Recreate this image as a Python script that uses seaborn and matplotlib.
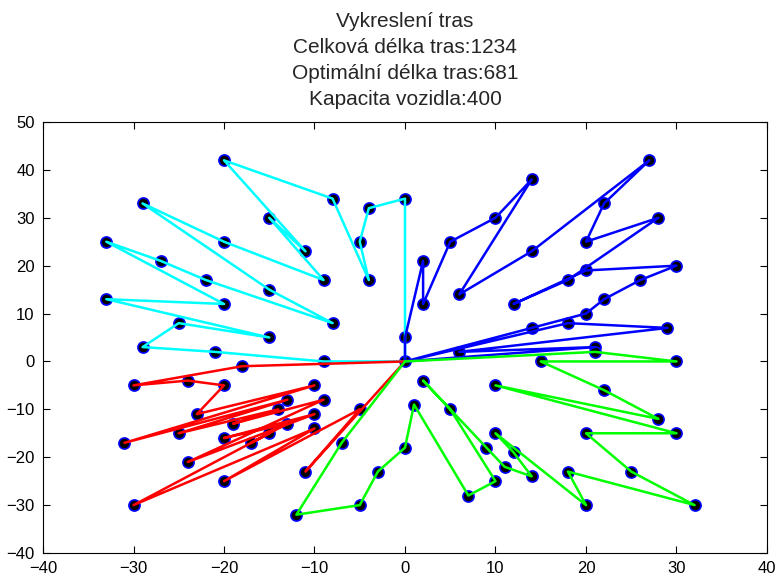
import matplotlib
matplotlib.use("Agg")
import matplotlib.pyplot as plt
import seaborn as sns
import pandas as pd

# Route data (in visiting order, depot at 0,0)
cyan_x = [0, 0, -4, -5, -4, -8, -20, -11, -15, -9, -20, -29, -15, -8, -22, -27, -33, -20, -33, -15, -25, -29, -21, -9, 0]
cyan_y = [0, 34, 32, 25, 17, 34, 42, 23, 30, 17, 25, 33, 15, 8, 17, 21, 25, 12, 13, 5, 8, 3, 2, 0, 0]

blue_x = [0, 0, 2, 2, 5, 10, 14, 6, 14, 27, 22, 20, 28, 18, 12, 20, 30, 26, 22, 20, 14, 0, 18, 29, 6, 21, 0]
blue_y = [0, 5, 21, 12, 25, 30, 38, 14, 23, 42, 33, 25, 30, 17, 12, 19, 20, 17, 13, 10, 7, 0, 8, 7, 2, 3, 0]

red_x = [0, -18, -30, -24, -20, -23, -10, -31, -13, -25, -14, -19, -9, -24, -10, -20, -13, -17, -15, -30, -10, -20, -5, -11, 0]
red_y = [0, -1, -5, -4, -5, -11, -5, -17, -8, -15, -10, -13, -8, -21, -11, -16, -13, -17, -15, -30, -14, -25, -10, -23, 0]

green_x = [0, -7, -12, -5, -3, 0, 1, 7, 10, 5, 2, 9, 11, 14, 12, 10, 20, 18, 32, 25, 20, 30, 10, 28, 22, 15, 30, 21, 0]
green_y = [0, -17, -32, -30, -23, -18, -9, -28, -25, -10, -4, -18, -22, -24, -19, -15, -30, -23, -30, -23, -15, -15, -5, -12, -6, 0, 0, 2, 0]

route_names = ["cyan", "blue", "red", "green"]
route_colors = {"cyan": "#00ffff", "blue": "#0000ff", "red": "#ff0000", "green": "#00ff00"}

title_lines = ["Vykreslení tras", "Celková délka tras:1234", "Optimální délka tras:681", "Kapacita vozidla:400"]

frames = []
for name, xs, ys in [("cyan", cyan_x, cyan_y), ("blue", blue_x, blue_y),
                     ("red", red_x, red_y), ("green", green_x, green_y)]:
    frames.append(pd.DataFrame({"x": xs, "y": ys, "route": name, "order": range(len(xs))}))
df = pd.concat(frames, ignore_index=True)

sns.set_style("white")
plt.rcParams["font.family"] = ["Liberation Sans", "DejaVu Sans"]

fig = plt.figure(figsize=(7.83, 5.82), dpi=100)
ax = fig.add_axes([43 / 783, 1 - 553 / 582, (767 - 43) / 783, (553 - 122) / 582])

pts = df.drop_duplicates(subset=["x", "y"])
sns.scatterplot(data=pts, x="x", y="y", ax=ax, color="black", edgecolor="#0000ff",
                linewidth=1.2, s=64, zorder=2, legend=False)

for name in route_names:
    sub = df[df["route"] == name]
    sns.lineplot(data=sub, x="x", y="y", ax=ax, sort=False, estimator=None,
                 color=route_colors[name], linewidth=1.8, zorder=3, legend=False)

ax.set_xlim(-40, 40)
ax.set_ylim(-40, 50)
ax.set_xticks(range(-40, 41, 10))
ax.set_yticks(range(-40, 51, 10))
ax.set_xlabel("")
ax.set_ylabel("")
ax.tick_params(direction="in", length=5, width=0.8, labelsize=12, colors="black",
               top=True, right=True, bottom=True, left=True, pad=6)
for sp in ax.spines.values():
    sp.set_visible(True)
    sp.set_color("black")
    sp.set_linewidth(0.8)

ax.set_title("\n".join(title_lines), fontsize=15, linespacing=1.48, pad=12)

fig.savefig("out.png", dpi=100, facecolor="white")
